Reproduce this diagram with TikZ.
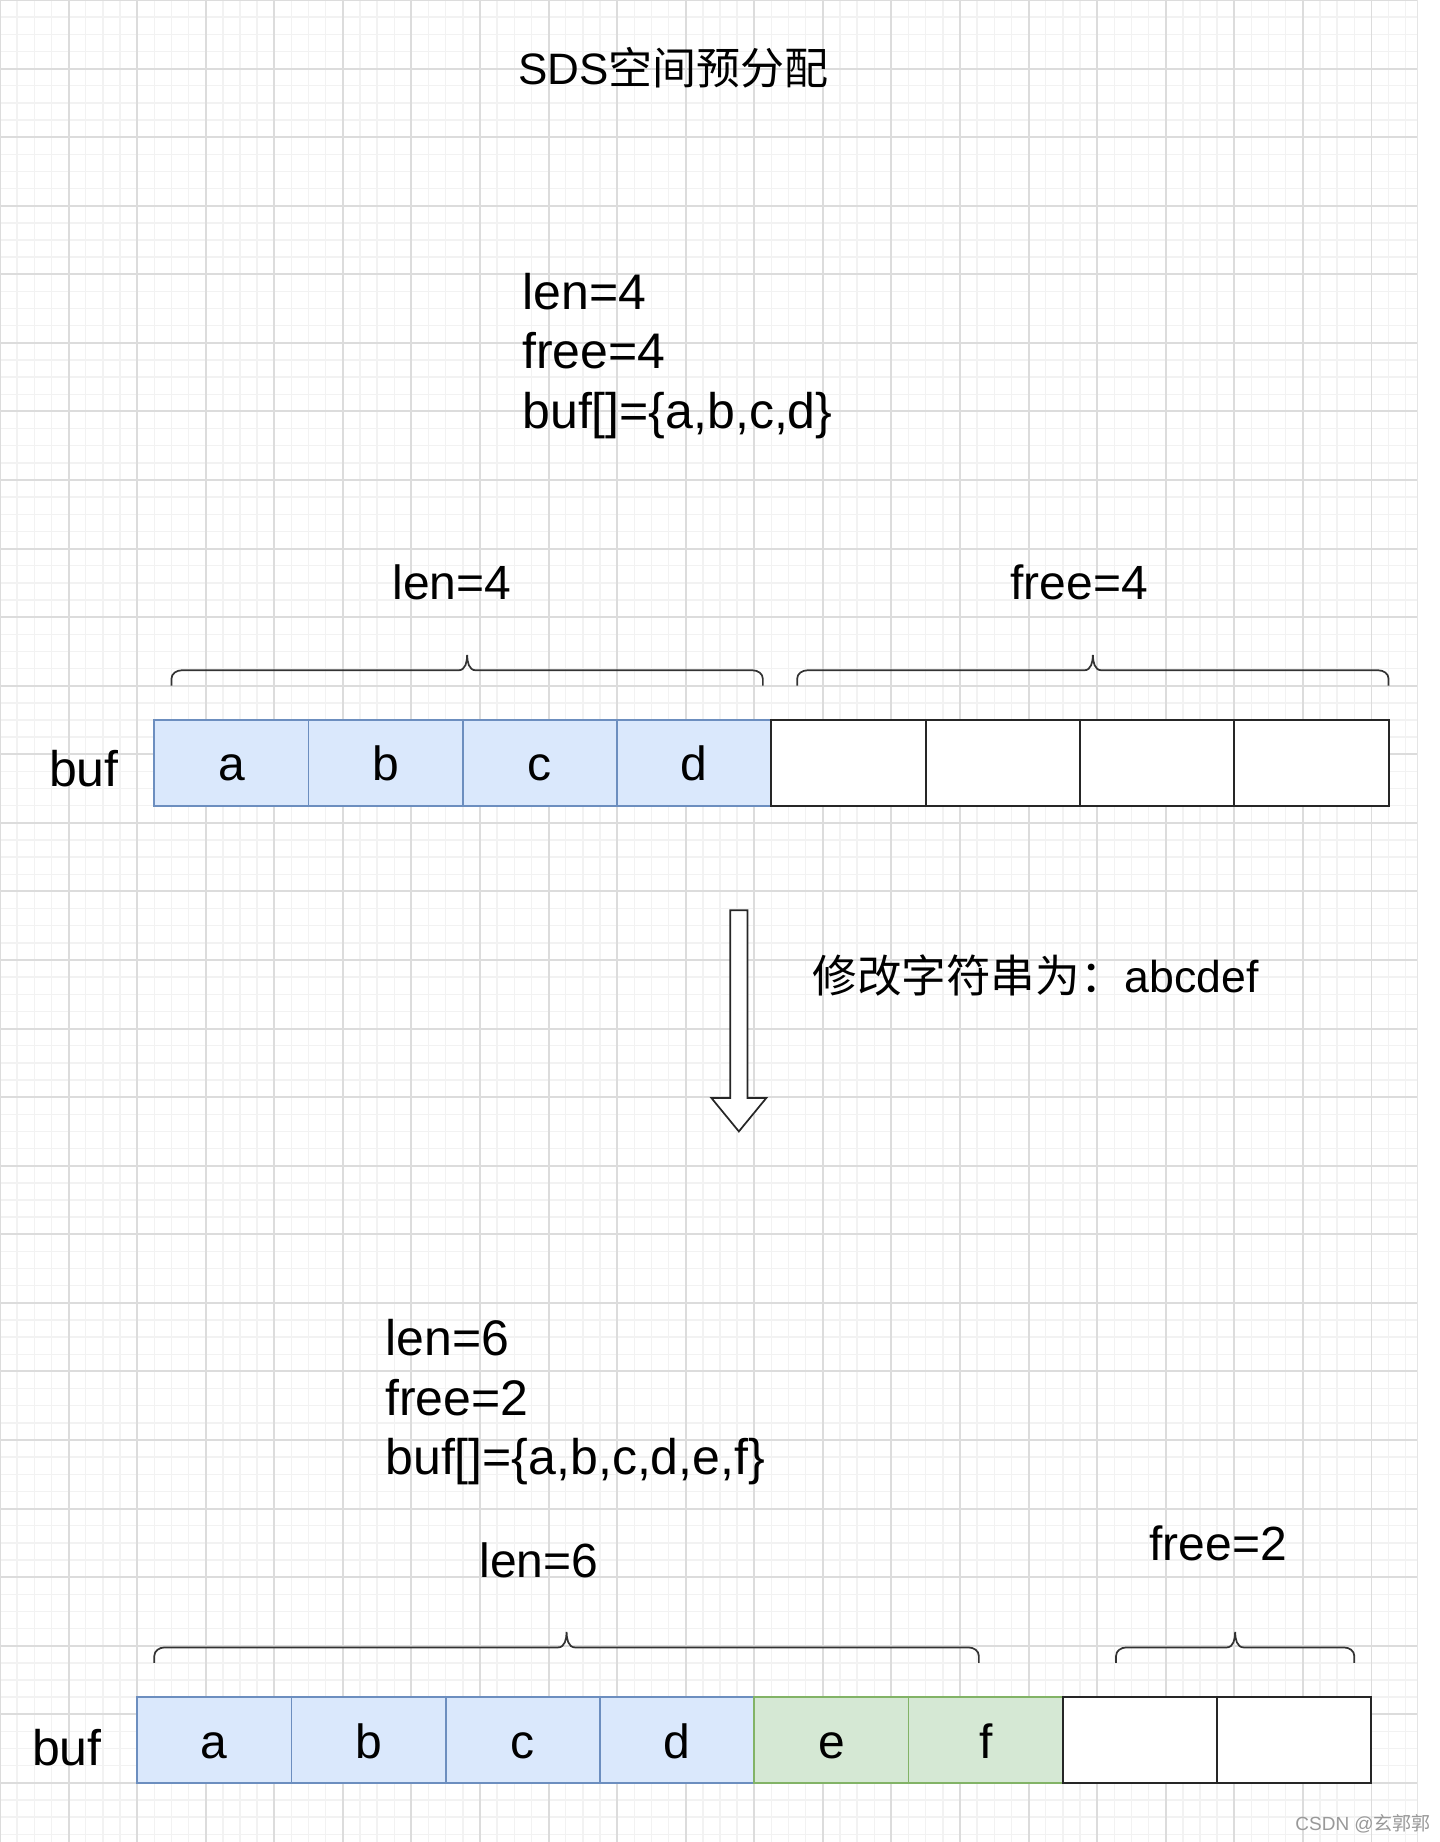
\documentclass[tikz,border=0pt]{standalone}
\usepackage{fontspec}
\setmainfont{Liberation Sans}
\newfontfamily\cjkfont{Noto Sans CJK SC}
\usetikzlibrary{positioning}
\definecolor{CellBlue}{HTML}{DAE8FC}
\definecolor{EdgeBlue}{HTML}{6C8EBF}
\definecolor{CellGreen}{HTML}{D5E8D4}
\definecolor{EdgeGreen}{HTML}{82B366}
\definecolor{GridMinor}{HTML}{F2F2F2}
\definecolor{GridMajor}{HTML}{DCDCDC}

\begin{document}
\begin{tikzpicture}[
            x=0.857143pt, y=-0.857143pt,
            node distance=0pt,
            cell/.style={rectangle, minimum width=77.14pt, minimum height=42.86pt, inner sep=0pt, outer sep=0pt,
                        text height=18pt, text depth=0pt, font=\fontsize{24}{29}\selectfont},
            bluecell/.style={cell, draw=EdgeBlue, fill=CellBlue, line width=0.86pt},
            greencell/.style={cell, draw=EdgeGreen, fill=CellGreen, line width=0.86pt},
            emptycell/.style={cell, draw=black!85, fill=white, line width=1pt},
            fieldtext/.style={inner sep=0pt, anchor=base west, font=\fontsize{24}{29}\selectfont},
            infotext/.style={inner sep=0pt, anchor=north west, align=left, font=\fontsize{25}{29.75}\selectfont},
            bracket/.style={draw=black!80, line width=0.86pt},
            blockarrow/.style={draw=black!85, fill=white, line width=0.86pt},
            gridminor/.style={GridMinor, line width=0.75pt},
            gridmajor/.style={GridMajor, line width=0.95pt}
        ]
            \useasboundingbox (0,0) rectangle (840,1074.5);
            \fill[white] (0,0) rectangle (840,1074.5);

            % background grid
            \foreach \gx in {0,10,...,820} \draw[gridminor] (\gx,0) -- (\gx,1074.5);
            \foreach \gy in {0,10,...,1070} \draw[gridminor] (0,\gy) -- (827,\gy);
            \foreach \gx in {0,40,...,800} \draw[gridmajor] (\gx,0) -- (\gx,1074.5);
            \foreach \gy in {0,40,...,1040} \draw[gridmajor] (0,\gy) -- (827,\gy);
            \draw[black!10, line width=0.5pt] (827,0) -- (827,1074.5);

            \node[fieldtext, font=\fontsize{22}{26}\selectfont] (title) at (302.2,49.3) {SDS{\cjkfont 空间预分配}};

            % before
            \node[infotext] (infoA) at (304.5,159) {len=4\\free=4\\buf[]=\{a,b,c,d\}};
            \node[fieldtext] (lenA) at (228.7,349.5) {len=4};
            \node[fieldtext] (freeA) at (589.2,349.5) {free=4};
            \node[fieldtext, font=\fontsize{25}{30}\selectfont] (bufA) at (28.4,459) {buf};

            \node[bluecell, anchor=north west] (up1) at (90,420) {a};
            \node[bluecell, right=of up1] (up2) {b};
            \node[bluecell, right=of up2] (up3) {c};
            \node[bluecell, right=of up3] (up4) {d};
            \node[emptycell, right=of up4] (up5) {};
            \node[emptycell, right=of up5] (up6) {};
            \node[emptycell, right=of up6] (up7) {};
            \node[emptycell, right=of up7] (up8) {};

            % change
            \draw[blockarrow] (426,531) -- (436,531) -- (436,640.5) -- (447,640.5) -- (431,660)
                -- (415,640.5) -- (426,640.5) -- cycle;
            \node[fieldtext, font=\fontsize{22.3}{26}\selectfont] (change) at (473.7,579) {{\cjkfont 修改字符串为：}abcdef};

            % after
            \node[infotext] (infoB) at (224.6,769.4) {len=6\\free=2\\buf[]=\{a,b,c,d,e,f\}};
            \node[fieldtext] (lenB) at (279.4,920) {len=6};
            \node[fieldtext] (freeB) at (670.3,910) {free=2};
            \node[fieldtext, font=\fontsize{25}{30}\selectfont] (bufB) at (18.5,1029.6) {buf};

            \node[bluecell, anchor=north west] (dn1) at (80,990) {a};
            \node[bluecell, right=of dn1] (dn2) {b};
            \node[bluecell, right=of dn2] (dn3) {c};
            \node[bluecell, right=of dn3] (dn4) {d};
            \node[greencell, right=of dn4] (dn5) {e};
            \node[greencell, right=of dn5] (dn6) {f};
            \node[emptycell, right=of dn6] (dn7) {};
            \node[emptycell, right=of dn7] (dn8) {};

            % braces over the cells
            \foreach \xa/\xb/\yb in {100/445/400, 465/810/400, 90/571/970, 651/790/970} {
                \pgfmathsetmacro\xm{(\xa+\xb)/2}
                \draw[bracket] (\xa,\yb) -- (\xa,\yb-4) to[out=90,in=180] (\xa+6,\yb-9) -- (\xm-5,\yb-9)
                    to[out=0,in=-90] (\xm,\yb-18) to[out=-90,in=180] (\xm+5,\yb-9) -- (\xb-6,\yb-9)
                    to[out=0,in=90] (\xb,\yb-4) -- (\xb,\yb);
            }

            \node[fieldtext, font=\fontsize{9.5}{11}\selectfont, text=black!40] (mark) at (755.4,1067.5) {CSDN @{\cjkfont 玄郭郭}};
        \end{tikzpicture}
\end{document}
